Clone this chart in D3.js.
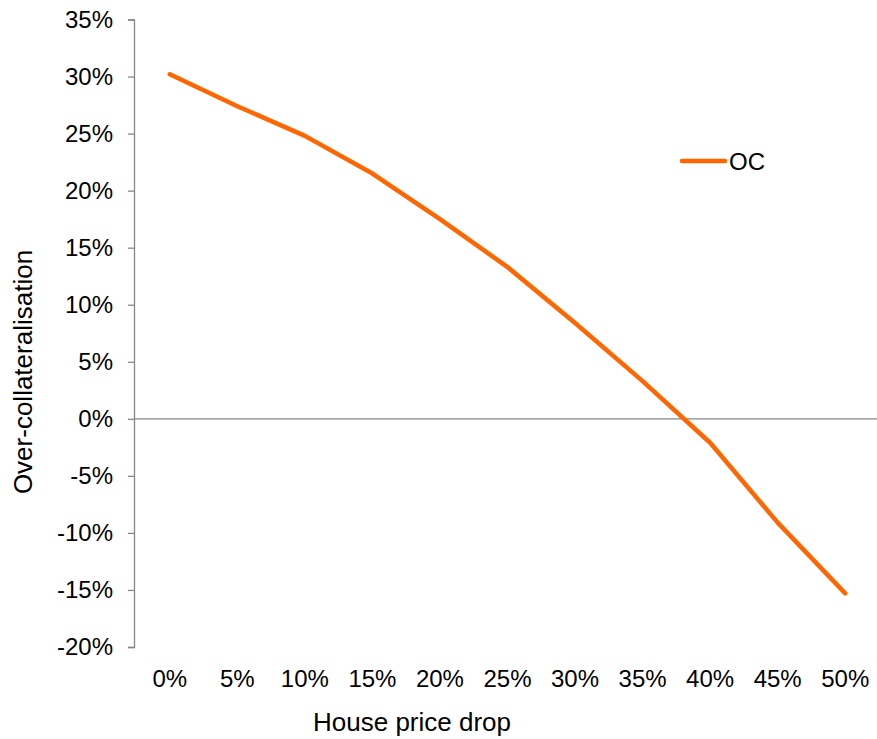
<!DOCTYPE html>
<html>
<head>
<meta charset="utf-8">
<script src="https://cdn.jsdelivr.net/npm/d3@7/dist/d3.min.js"></script>
<style>
  html, body { margin: 0; padding: 0; background: #fff; }
  svg { display: block; }
  text { font-family: "Liberation Sans", Arial, sans-serif; fill: #000; }
</style>
</head>
<body>
<svg id="chart" width="877" height="739"></svg>
<script>
// House price drop scenarios (x categories)
const categories = ["0%", "5%", "10%", "15%", "20%", "25%", "30%", "35%", "40%", "45%", "50%"];
// Over-collateralisation, in percent
const ocValues = [30.2, 27.4, 24.8, 21.5, 17.5, 13.3, 8.4, 3.3, -2.1, -9.1, -15.3];
// Y tick values, in percent
const yTicks = [-20, -15, -10, -5, 0, 5, 10, 15, 20, 25, 30, 35];
const seriesName = "OC";

const svg = d3.select("#chart");
const plot = { left: 134, right: 877, top: 19.5, bottom: 647 };
const orange = "#FF6600";
const axisGrey = "#868686";
const tickFont = "24px";
const titleFont = "26px";

const x = d3.scalePoint().domain(categories).range([plot.left + 2, plot.right + 2]).padding(0.5);
const y = d3.scaleLinear().domain([-20, 35]).range([plot.bottom, plot.top]);

// Y axis with outside ticks
const yAxis = svg.append("g")
  .attr("transform", `translate(${plot.left},0)`)
  .call(d3.axisLeft(y).tickValues(yTicks).tickSize(6).tickPadding(15)
    .tickFormat(d => d + "%"));
yAxis.select(".domain").attr("stroke", axisGrey).attr("stroke-width", 1.3);
yAxis.selectAll(".tick line").attr("stroke", axisGrey).attr("stroke-width", 1.3);
yAxis.selectAll(".tick text").style("font-size", tickFont).attr("fill", "#000");

// Horizontal axis line at zero
svg.append("line")
  .attr("x1", plot.left).attr("x2", plot.right)
  .attr("y1", y(0)).attr("y2", y(0))
  .attr("stroke", axisGrey).attr("stroke-width", 1.3);

// Category labels along the bottom
svg.append("g").selectAll("text")
  .data(categories)
  .join("text")
  .attr("x", d => x(d))
  .attr("y", 687)
  .attr("text-anchor", "middle")
  .style("font-size", tickFont)
  .text(d => d);

// Axis titles
svg.append("text")
  .attr("x", 412).attr("y", 731)
  .attr("text-anchor", "middle")
  .style("font-size", titleFont)
  .text("House price drop");

svg.append("text")
  .attr("transform", `translate(32,372) rotate(-90)`)
  .attr("text-anchor", "middle")
  .style("font-size", titleFont)
  .text("Over-collateralisation");

// OC line
const line = d3.line()
  .x((d, i) => x(categories[i]))
  .y(d => y(d));

svg.append("path")
  .datum(ocValues)
  .attr("fill", "none")
  .attr("stroke", orange)
  .attr("stroke-width", 4.5)
  .attr("stroke-linejoin", "round")
  .attr("stroke-linecap", "round")
  .attr("d", line);

// Legend
const legend = svg.append("g").attr("transform", "translate(682,161)");
legend.append("line")
  .attr("x1", 0).attr("x2", 43).attr("y1", 0).attr("y2", 0)
  .attr("stroke", orange).attr("stroke-width", 4.5).attr("stroke-linecap", "round");
legend.append("text")
  .attr("x", 47).attr("y", 9)
  .style("font-size", tickFont)
  .text(seriesName);
</script>
</body>
</html>
